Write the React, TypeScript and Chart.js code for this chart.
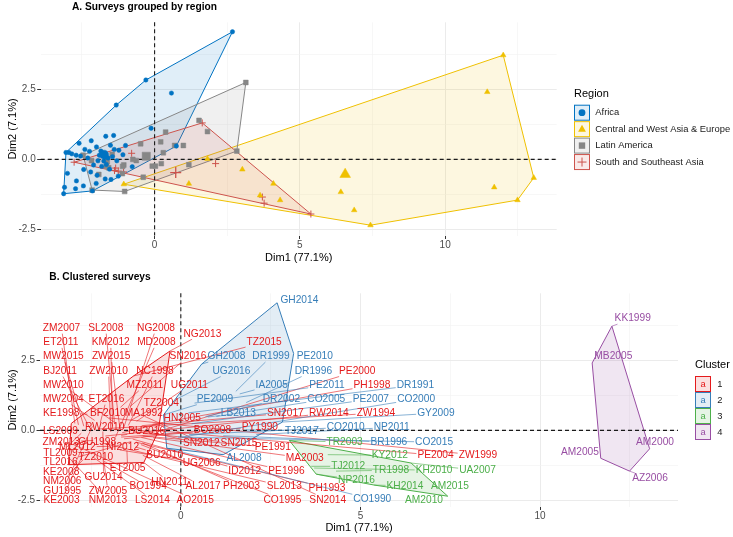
import React, { useEffect, useRef } from 'react';
import { Chart, registerables } from 'chart.js';
Chart.register(...registerables);

const FONT = '"Liberation Sans", Arial, Helvetica, sans-serif';

// ---------------- data ----------------
const surveyIds = [
  'ZM2007','SL2008','NG2008','NG2013','ET2011','KM2012','MD2008','TZ2015','MW2015','ZW2015',
  'SN2016','BJ2011','ZW2010','NC1998','PE2000','MW2010','MZ2011','UG2011','PH1998','MW2004',
  'ET2016','TZ2004','KE1998','BF2010','MA1992','SN2017','RW2014','ZW1994','HN2005','PY1990',
  'RW2010','BO2008','BU2016','LS2009','ZM2013','GU1998','SN2012','SN2015','PE1991','ML2012',
  'NI2012','TL2009','MA2003','PE2004','ZW1999','TZ2010','BU2010','TL2016','UG2006','ET2005',
  'KE2008','ID2012','PE1996','HN2011','GU2014','NM2006','AL2017','PH2003','SL2013','PH1993',
  'BO1994','GU1995','ZW2005','KE2003','NM2013','LS2014','AO2015','CO1995','SN2014',
  'GH2014','GH2008','DR1999','PE2010','UG2016','DR1996','IA2005','PE2011','DR1991','PE2009',
  'DR2002','CO2005','PE2007','CO2000','LB2013','GY2009','TJ2017','CO2010','NP2011','BR1996',
  'CO2015','AL2008','CO1990',
  'TR2003','KY2012','TJ2012','TR1998','KH2010','UA2007','NP2016','KH2014','AM2015','AM2010',
  'KK1999','MB2005','AM2000','AM2005','AZ2006'
];
const dim1 = [
  -2.95,-1.85,-1.60,-0.30,-2.85,-1.90,-1.82,-1.32,-2.70,-1.70,
  -1.41,-2.55,-1.95,-1.46,-0.63,-1.80,-1.68,-1.23,-0.79,-2.40,
  -2.24,-1.39,-2.60,-2.18,-1.52,-1.09,-2.10,-2.30,-1.63,-1.66,
  -1.75,-1.58,-1.66,-3.05,-2.44,-1.92,-1.45,-1.30,-1.06,-1.98,
  -1.55,-2.77,-0.77,-0.75,-2.00,-2.01,-1.25,-1.38,-1.70,-1.50,
  -3.13,-1.34,-1.10,-1.03,-2.17,-2.72,-1.06,-1.07,-2.20,-1.25,
  -2.15,-2.46,-2.14,-2.69,-3.10,-2.45,-3.00,-1.11,-1.00,
  2.68,0.58,1.53,3.14,-0.12,1.82,1.64,0.38,0.21,-0.48,
  0.69,0.99,0.30,0.03,0.75,2.83,1.82,0.23,2.10,1.18,
  -0.08,1.18,-0.39,
  3.02,4.09,3.63,4.32,3.71,6.41,3.77,5.38,6.87,7.43,
  12.00,11.45,13.05,11.69,12.49
];
const dim2 = [
  0.25,0.30,0.05,2.85,0.20,0.15,-0.25,1.95,0.15,0.10,
  0.86,0.12,-0.05,0.18,-0.04,0.24,0.83,0.33,0.22,0.36,
  0.29,0.36,0.58,0.67,0.51,0.17,-0.20,0.05,-0.08,-0.24,
  -0.06,-0.30,-0.18,0.25,-0.36,-0.54,0.10,-0.05,-0.20,-0.57,
  -0.35,-0.10,-0.26,0.00,0.45,-0.86,-0.60,-0.40,-0.70,-0.72,
  -1.23,-0.31,-0.25,-1.15,-0.04,-1.05,-0.89,-0.45,-0.45,-0.42,
  -1.10,0.15,-1.13,-0.77,-1.00,-0.95,-0.50,-0.51,0.50,
  4.58,2.38,1.40,2.76,1.12,1.00,1.31,0.98,0.63,0.56,
  0.50,0.50,0.24,-0.24,0.48,0.30,0.02,-0.15,-0.15,-0.19,
  -0.24,-0.87,-0.64,
  -0.36,-0.87,-1.29,-1.46,-1.35,-1.17,-1.57,-1.96,-1.82,-2.36,
  3.74,2.42,-0.66,-1.00,-1.46
];
const clusterId = [
  1,1,1,1,1,1,1,1,1,1, 1,1,1,1,1,1,1,1,1,1, 1,1,1,1,1,1,1,1,1,1,
  1,1,1,1,1,1,1,1,1,1, 1,1,1,1,1,1,1,1,1,1, 1,1,1,1,1,1,1,1,1,1,
  1,1,1,1,1,1,1,1,1,
  2,2,2,2,2,2,2,2,2,2, 2,2,2,2,2,2,2,2,2,2, 2,2,2,
  3,3,3,3,3,3,3,3,3,3,
  4,4,4,4,4
];
// 0 Africa, 1 Central and West Asia & Europe, 2 Latin America, 3 South and Southeast Asia
const regionId = [
  0,0,0,0,0,0,0,0,0,0, 0,0,0,2,2,0,0,0,3,0, 0,0,0,0,0,0,0,0,2,2,
  0,2,0,0,0,2,0,0,2,0, 0,3,0,2,0,0,0,3,0,0, 0,3,2,2,2,0,1,3,0,3,
  2,2,0,0,0,0,0,2,0,
  0,0,2,2,0,2,3,2,2,2, 2,2,2,2,0,2,1,2,3,2, 2,1,2,
  1,1,1,1,3,1,3,3,1,1,
  1,1,1,1,1
];
const labelDim1 = [
  -3.32,-2.09,-0.69,0.60,-3.34,-1.95,-0.68,2.32,-3.27,-1.94,
  0.20,-3.36,-2.01,-0.72,4.91,-3.27,-1.00,0.24,5.32,-3.27,
  -2.07,-0.54,-3.33,-2.03,-1.03,2.91,4.12,5.43,0.04,2.20,
  -2.12,0.88,-0.95,-3.35,-3.33,-2.33,0.57,1.62,2.56,-2.88,
  -1.62,-3.35,3.45,7.09,8.27,-2.37,-0.45,-3.35,0.58,-1.48,
  -3.33,1.78,2.94,-0.31,-2.15,-3.30,0.62,1.69,2.88,4.07,
  -0.91,-3.30,-2.03,-3.32,-2.03,-0.79,0.40,2.83,4.09,
  3.30,1.27,2.51,3.73,1.41,3.69,2.53,4.07,6.53,0.95,
  2.80,4.05,5.29,6.55,1.60,7.10,3.37,4.59,5.87,5.79,
  7.05,1.76,5.33,
  4.56,5.82,4.66,5.85,7.05,8.26,4.89,6.24,7.49,6.77,
  12.58,12.04,13.20,11.11,13.06
];
const labelDim2 = [
  3.67,3.67,3.67,3.47,3.16,3.16,3.16,3.16,2.65,2.65,
  2.65,2.13,2.13,2.13,2.13,1.62,1.62,1.62,1.62,1.12,
  1.12,0.97,0.62,0.62,0.62,0.62,0.62,0.62,0.43,0.13,
  0.13,0.01,-0.01,-0.01,-0.42,-0.42,-0.47,-0.47,-0.61,-0.59,
  -0.59,-0.81,-0.99,-0.89,-0.89,-0.95,-0.90,-1.14,-1.17,-1.37,
  -1.49,-1.46,-1.46,-1.86,-1.68,-1.83,-2.01,-2.01,-2.01,-2.06,
  -2.01,-2.17,-2.17,-2.49,-2.49,-2.49,-2.49,-2.49,-2.49,
  4.69,2.65,2.65,2.65,2.13,2.13,1.62,1.62,1.62,1.12,
  1.12,1.12,1.12,1.12,0.62,0.62,-0.01,0.11,0.11,-0.42,
  -0.42,-0.99,-2.47,
  -0.42,-0.89,-1.29,-1.43,-1.43,-1.43,-1.77,-1.99,-2.01,-2.49,
  4.01,2.65,-0.41,-0.77,-1.73
];

const regionNames = ['Africa', 'Central and West Asia & Europe', 'Latin America', 'South and Southeast Asia'];
const regionColors = ['#0073C2', '#EFC000', '#868686', '#CD534C'];
const regionShapes = ['circle', 'triangle', 'rect', 'cross'];
const clusterNames = ['1', '2', '3', '4'];
const clusterColors = ['#E41A1C', '#377EB8', '#4DAF4A', '#984EA3'];

const dim1Limits = [-3.92, 13.84];
const dim2Limits = [-2.73, 4.92];
const dim1MajorTicks = [0, 5, 10];
const dim1MinorTicks = [-2.5, 2.5, 7.5, 12.5];
const dim2MajorTicks = [-2.5, 0, 2.5];
const dim2MinorTicks = [-1.25, 1.25, 3.75];
const dim2TickLabels = ['-2.5', '0.0', '2.5'];

// ---------------- helpers ----------------
type P = { x: number; y: number };
const indices = surveyIds.map((_, i) => i);
const pointsWhere = (pred: (i: number) => boolean): P[] =>
  indices.filter(pred).map((i) => ({ x: dim1[i], y: dim2[i] }));

function hexToRgba(hex: string, a: number) {
  const n = parseInt(hex.slice(1), 16);
  return `rgba(${(n >> 16) & 255},${(n >> 8) & 255},${n & 255},${a})`;
}

function convexHull(points: P[]): P[] {
  const pts = points.slice().sort((a, b) => a.x - b.x || a.y - b.y);
  if (pts.length < 3) return pts;
  const cr = (o: P, a: P, b: P) => (a.x - o.x) * (b.y - o.y) - (a.y - o.y) * (b.x - o.x);
  const lower: P[] = [];
  for (const p of pts) {
    while (lower.length >= 2 && cr(lower[lower.length - 2], lower[lower.length - 1], p) <= 0) lower.pop();
    lower.push(p);
  }
  const upper: P[] = [];
  for (let i = pts.length - 1; i >= 0; i--) {
    const p = pts[i];
    while (upper.length >= 2 && cr(upper[upper.length - 2], upper[upper.length - 1], p) <= 0) upper.pop();
    upper.push(p);
  }
  upper.pop();
  lower.pop();
  return lower.concat(upper);
}

function drawHull(ctx: CanvasRenderingContext2D, xs: any, ys: any, pts: P[], color: string, alpha: number) {
  const hull = convexHull(pts);
  if (!hull.length) return;
  ctx.beginPath();
  hull.forEach((p, i) => {
    const X = xs.getPixelForValue(p.x);
    const Y = ys.getPixelForValue(p.y);
    if (i === 0) ctx.moveTo(X, Y);
    else ctx.lineTo(X, Y);
  });
  ctx.closePath();
  ctx.fillStyle = hexToRgba(color, alpha);
  ctx.fill();
  ctx.strokeStyle = color;
  ctx.lineWidth = 1;
  ctx.stroke();
}

function drawZeroLines(ctx: CanvasRenderingContext2D, area: any, xs: any, ys: any) {
  ctx.save();
  ctx.setLineDash([4, 3]);
  ctx.strokeStyle = '#1a1a1a';
  ctx.lineWidth = 1.1;
  const x0 = xs.getPixelForValue(0);
  const y0 = ys.getPixelForValue(0);
  ctx.beginPath();
  ctx.moveTo(x0, area.top);
  ctx.lineTo(x0, area.bottom);
  ctx.moveTo(area.left, y0);
  ctx.lineTo(area.right, y0);
  ctx.stroke();
  ctx.restore();
}

function drawSymbol(ctx: CanvasRenderingContext2D, shape: string, cx: number, cy: number, color: string) {
  ctx.save();
  ctx.fillStyle = color;
  ctx.strokeStyle = color;
  ctx.beginPath();
  if (shape === 'circle') {
    ctx.arc(cx, cy, 3.4, 0, Math.PI * 2);
    ctx.fill();
  } else if (shape === 'triangle') {
    ctx.moveTo(cx, cy - 4.3);
    ctx.lineTo(cx + 3.9, cy + 2.5);
    ctx.lineTo(cx - 3.9, cy + 2.5);
    ctx.closePath();
    ctx.fill();
  } else if (shape === 'rect') {
    ctx.rect(cx - 3.2, cy - 3.2, 6.4, 6.4);
    ctx.fill();
  } else {
    ctx.lineWidth = 1;
    ctx.moveTo(cx - 4.5, cy);
    ctx.lineTo(cx + 4.5, cy);
    ctx.moveTo(cx, cy - 4.5);
    ctx.lineTo(cx, cy + 4.5);
    ctx.stroke();
  }
  ctx.restore();
}

function drawPanelTitle(ctx: CanvasRenderingContext2D, text: string, x: number, y: number) {
  ctx.save();
  ctx.font = `bold 10.2px ${FONT}`;
  ctx.fillStyle = '#000';
  ctx.textAlign = 'left';
  ctx.textBaseline = 'middle';
  ctx.fillText(text, x, y);
  ctx.restore();
}

function makeScales(yWidth: number, xHeight: number, xTitlePad: number) {
  const tickFont = { family: FONT, size: 10 };
  const gridFor = (majors: number[]) => ({
    color: (c: any) => (majors.includes(c.tick && c.tick.value) ? '#EBEBEB' : '#F2F2F2'),
    lineWidth: (c: any) => (majors.includes(c.tick && c.tick.value) ? 1 : 0.6),
    tickColor: (c: any) => (majors.includes(c.tick && c.tick.value) ? '#333333' : 'rgba(0,0,0,0)'),
    tickLength: 3.5,
    tickWidth: 1,
    drawTicks: true,
  });
  return {
    x: {
      type: 'linear',
      min: dim1Limits[0],
      max: dim1Limits[1],
      afterBuildTicks: (s: any) => {
        s.ticks = [...dim1MajorTicks, ...dim1MinorTicks].sort((a, b) => a - b).map((v) => ({ value: v }));
      },
      afterFit: (s: any) => {
        s.height = xHeight;
      },
      ticks: {
        autoSkip: false,
        maxRotation: 0,
        padding: 0,
        color: '#4D4D4D',
        font: tickFont,
        callback: (v: number) => (dim1MajorTicks.includes(v) ? String(v) : ''),
      },
      grid: gridFor(dim1MajorTicks),
      border: { display: false },
      title: {
        display: true,
        text: 'Dim1 (77.1%)',
        color: '#000',
        font: { family: FONT, size: 11 },
        padding: { top: 0, bottom: xTitlePad },
      },
    },
    y: {
      type: 'linear',
      min: dim2Limits[0],
      max: dim2Limits[1],
      afterBuildTicks: (s: any) => {
        s.ticks = [...dim2MajorTicks, ...dim2MinorTicks].sort((a, b) => a - b).map((v) => ({ value: v }));
      },
      afterFit: (s: any) => {
        s.width = yWidth;
      },
      ticks: {
        autoSkip: false,
        padding: 1.5,
        color: '#4D4D4D',
        font: tickFont,
        callback: (v: number) => {
          const k = dim2MajorTicks.indexOf(v);
          return k >= 0 ? dim2TickLabels[k] : '';
        },
      },
      grid: gridFor(dim2MajorTicks),
      border: { display: false },
      title: {
        display: true,
        text: 'Dim2 (7.1%)',
        color: '#000',
        font: { family: FONT, size: 11 },
        padding: { top: 6.4, bottom: 0 },
      },
    },
  };
}

// ---------------- panel A ----------------
const pointRadius = [2.2, 3.2, 3.4, 3.5];
const meanRadius = [4.5, 6.2, 5.8, 5.5];

function makeConfigA(): any {
  const datasets: any[] = [];
  regionNames.forEach((name, r) => {
    const pts = pointsWhere((i) => regionId[i] === r);
    datasets.push({
      label: name,
      data: pts,
      pointStyle: regionShapes[r],
      pointRadius: pointRadius[r],
      pointBackgroundColor: regionColors[r],
      pointBorderColor: regionColors[r],
      pointBorderWidth: r === 3 ? 1 : 0.5,
      showLine: false,
      order: 1,
    });
    const mx = pts.reduce((s, p) => s + p.x, 0) / pts.length;
    const my = pts.reduce((s, p) => s + p.y, 0) / pts.length;
    datasets.push({
      label: name + ' mean',
      data: [{ x: mx, y: my }],
      pointStyle: regionShapes[r],
      pointRadius: meanRadius[r],
      pointBackgroundColor: regionColors[r],
      pointBorderColor: regionColors[r],
      pointBorderWidth: r === 3 ? 1.3 : 0.5,
      showLine: false,
      order: 0,
    });
  });

  const plugin = {
    id: 'panelA',
    beforeDatasetsDraw(chart: any) {
      const { ctx, chartArea, scales } = chart;
      ctx.save();
      regionNames.forEach((_, r) =>
        drawHull(ctx, scales.x, scales.y, pointsWhere((i) => regionId[i] === r), regionColors[r], 0.12)
      );
      ctx.restore();
      drawZeroLines(ctx, chartArea, scales.x, scales.y);
    },
    afterDraw(chart: any) {
      const { ctx } = chart;
      drawPanelTitle(ctx, 'A. Surveys grouped by region', 72, 6.7);
      ctx.save();
      ctx.textBaseline = 'middle';
      ctx.textAlign = 'left';
      ctx.fillStyle = '#000';
      ctx.font = `11px ${FONT}`;
      ctx.fillText('Region', 574, 94.3);
      regionNames.forEach((name, r) => {
        const cy = 112.7 + r * 16.45;
        ctx.fillStyle = hexToRgba(regionColors[r], 0.12);
        ctx.fillRect(574.5, cy - 7.5, 15, 15);
        ctx.strokeStyle = regionColors[r];
        ctx.lineWidth = 1;
        ctx.strokeRect(574.5, cy - 7.5, 15, 15);
        drawSymbol(ctx, regionShapes[r], 582, cy, regionColors[r]);
        ctx.fillStyle = '#1a1a1a';
        ctx.font = `9.4px ${FONT}`;
        ctx.fillText(name, 595.3, cy);
      });
      ctx.restore();
    },
  };

  return {
    type: 'scatter',
    data: { datasets },
    options: {
      responsive: false,
      maintainAspectRatio: false,
      devicePixelRatio: 1,
      animation: false,
      events: [],
      layout: { padding: { top: 22.3, right: 176.3, bottom: 0, left: 0 } },
      plugins: { legend: { display: false }, tooltip: { enabled: false }, title: { display: false } },
      scales: makeScales(40.7, 32.5, 3.1),
    },
    plugins: [plugin],
  };
}

// ---------------- panel B ----------------
function makeConfigB(): any {
  const datasets = clusterNames.map((name, c) => ({
    label: 'Cluster ' + name,
    data: pointsWhere((i) => clusterId[i] === c + 1),
    pointRadius: 0,
    showLine: false,
  }));

  const plugin = {
    id: 'panelB',
    beforeDatasetsDraw(chart: any) {
      const { ctx, chartArea, scales } = chart;
      ctx.save();
      clusterNames.forEach((_, c) =>
        drawHull(ctx, scales.x, scales.y, pointsWhere((i) => clusterId[i] === c + 1), clusterColors[c], 0.14)
      );
      ctx.restore();
      drawZeroLines(ctx, chartArea, scales.x, scales.y);
    },
    afterDatasetsDraw(chart: any) {
      const { ctx, scales } = chart;
      const xs = scales.x;
      const ys = scales.y;
      ctx.save();
      ctx.font = `10.2px ${FONT}`;
      ctx.textAlign = 'center';
      ctx.textBaseline = 'middle';
      // segments
      indices.forEach((i) => {
        const color = clusterColors[clusterId[i] - 1];
        const lx = xs.getPixelForValue(labelDim1[i]);
        const ly = ys.getPixelForValue(labelDim2[i]);
        const px = xs.getPixelForValue(dim1[i]);
        const py = ys.getPixelForValue(dim2[i]);
        const hw = ctx.measureText(surveyIds[i]).width / 2 + 1;
        const hh = 5.5;
        const dx = px - lx;
        const dy = py - ly;
        if (Math.abs(dx) <= hw && Math.abs(dy) <= hh) return;
        const t = Math.min(dx !== 0 ? hw / Math.abs(dx) : Infinity, dy !== 0 ? hh / Math.abs(dy) : Infinity);
        const sx = lx + dx * t;
        const sy = ly + dy * t;
        if (Math.hypot(px - sx, py - sy) < 4) return;
        ctx.beginPath();
        ctx.strokeStyle = color;
        ctx.lineWidth = 0.6;
        ctx.moveTo(sx, sy);
        ctx.lineTo(px, py);
        ctx.stroke();
      });
      // labels
      indices.forEach((i) => {
        ctx.fillStyle = clusterColors[clusterId[i] - 1];
        ctx.fillText(surveyIds[i], xs.getPixelForValue(labelDim1[i]), ys.getPixelForValue(labelDim2[i]));
      });
      ctx.restore();
    },
    afterDraw(chart: any) {
      const { ctx } = chart;
      drawPanelTitle(ctx, 'B. Clustered surveys', 49.3, 8.7);
      ctx.save();
      ctx.textBaseline = 'middle';
      ctx.textAlign = 'left';
      ctx.fillStyle = '#000';
      ctx.font = `11px ${FONT}`;
      ctx.fillText('Cluster', 695, 97);
      clusterNames.forEach((name, c) => {
        const cy = 116 + c * 16;
        ctx.fillStyle = hexToRgba(clusterColors[c], 0.14);
        ctx.fillRect(695.5, cy - 7.5, 15, 15);
        ctx.strokeStyle = clusterColors[c];
        ctx.lineWidth = 1;
        ctx.strokeRect(695.5, cy - 7.5, 15, 15);
        ctx.fillStyle = clusterColors[c];
        ctx.font = `9.4px ${FONT}`;
        ctx.textAlign = 'center';
        ctx.fillText('a', 703, cy);
        ctx.textAlign = 'left';
        ctx.fillStyle = '#1a1a1a';
        ctx.fillText(name, 717.3, cy);
      });
      ctx.restore();
    },
  };

  return {
    type: 'scatter',
    data: { datasets },
    options: {
      responsive: false,
      maintainAspectRatio: false,
      devicePixelRatio: 1,
      animation: false,
      events: [],
      layout: { padding: { top: 25.3, right: 55, bottom: 0, left: 0 } },
      plugins: { legend: { display: false }, tooltip: { enabled: false }, title: { display: false } },
      scales: makeScales(40, 30.5, 2.7),
    },
    plugins: [plugin],
  };
}

export default function App() {
  const refA = useRef<HTMLCanvasElement>(null);
  const refB = useRef<HTMLCanvasElement>(null);
  useEffect(() => {
    const a = new Chart(refA.current as HTMLCanvasElement, makeConfigA());
    const b = new Chart(refB.current as HTMLCanvasElement, makeConfigB());
    return () => {
      a.destroy();
      b.destroy();
    };
  }, []);
  return (
    <div style={{ position: 'absolute', left: 0, top: 0, width: 733, height: 537, background: '#fff' }}>
      <canvas
        ref={refA}
        width={733}
        height={268}
        style={{ position: 'absolute', left: 0, top: 0, width: 733, height: 268, display: 'block' }}
      />
      <canvas
        ref={refB}
        width={733}
        height={269}
        style={{ position: 'absolute', left: 0, top: 268, width: 733, height: 269, display: 'block' }}
      />
    </div>
  );
}
